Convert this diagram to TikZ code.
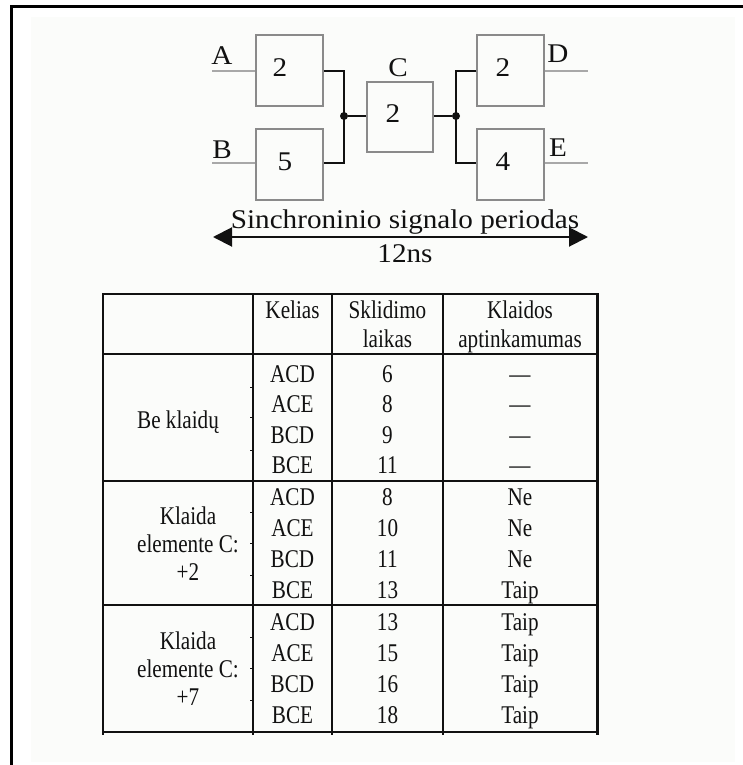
\documentclass[tikz,border=0pt]{standalone}
\usepackage{fontspec}
\setmainfont{Liberation Serif}
\newfontfamily\diafont{Liberation Serif}[FakeStretch=1.08]
\newfontfamily\tabfont{Liberation Serif}[FakeStretch=0.83]
\usetikzlibrary{arrows.meta}

\definecolor{ink}{HTML}{111111}
\definecolor{boxgray}{HTML}{8A8A8A}
\definecolor{leadgray}{HTML}{A8A8A8}
\definecolor{paper}{HTML}{FBFCFA}

\begin{document}
\begin{tikzpicture}[x=1pt,y=-1pt,
  blk/.style={draw=boxgray,line width=1.5pt,inner sep=0pt,
              minimum width=67pt,minimum height=71pt},
  lead/.style={draw=leadgray,line width=2pt},
  link/.style={draw=ink,line width=1.2pt},
  dot/.style={circle,fill=ink,inner sep=0pt,minimum size=8pt},
  lab/.style={font=\diafont\fontsize{27}{30}\selectfont,text=ink,inner sep=0pt,anchor=base},
  cell/.style={font=\tabfont\fontsize{25.5}{28}\selectfont,text=ink,inner sep=0pt,anchor=base},
  rule/.style={draw=ink,line width=1.5pt},
  frame/.style={draw=black,line width=3pt},
  span/.style={draw=ink,line width=2pt,>={Triangle[length=19pt,width=19pt]},<->}]

\useasboundingbox (0,0) rectangle (743,765);
\fill[paper] (31,17) rectangle (735,762);
\draw[frame] (11,765) -- (11,7) -- (743,7);

% ---------- circuit ----------
\node[blk] (bA) at (289.5,70.5) {};
\node[blk] (bB) at (289.5,164.5) {};
\node[blk,minimum width=66pt,minimum height=70pt] (bC) at (400,117) {};
\node[blk] (bD) at (510.5,70.5) {};
\node[blk] (bE) at (510.5,164.5) {};

\node[lab] (nA) at (280,77) {2};
\node[lab] (nB) at (285,170) {5};
\node[lab] (nC) at (393,123) {2};
\node[lab] (nD) at (503,77) {2};
\node[lab] (nE) at (503,170) {4};

\node[lab] (lA) at (222,65) {A};
\node[lab] (lB) at (222,158) {B};
\node[lab] (lC) at (398,77) {C};
\node[lab] (lD) at (558,63) {D};
\node[lab] (lE) at (558,157) {E};

\coordinate (inA) at (212,71);
\coordinate (inB) at (212,163);
\coordinate (outD) at (588,71);
\coordinate (outE) at (588,163);
\node[dot] (j1) at (344,116) {};
\node[dot] (j2) at (456,116) {};

\draw[lead] (inA) -- (inA -| bA.west);
\draw[lead] (inB) -- (inB -| bB.west);
\draw[lead] (outD -| bD.east) -- (outD);
\draw[lead] (outE -| bE.east) -- (outE);

\draw[link] (inA -| bA.east) -- (inA -| j1) -- (inB -| j1) -- (inB -| bB.east);
\draw[link] (j1) -- (j1 -| bC.west);
\draw[link] (j2 -| bC.east) -- (j2);
\draw[link] (outD -| bD.west) -- (outD -| j2) -- (outE -| j2) -- (outE -| bE.west);

% ---------- clock period ----------
\coordinate (arL) at (213,237);
\coordinate (arR) at (588,237);
\draw[span] (arL) -- (arR);
\node[lab] (per) at (405,228) {Sinchroninio signalo periodas};
\node[lab] (ns) at (405,262) {12ns};

% ---------- table ----------
\foreach \yy in {294,354,481,605,732}
  \draw[rule] (102,\yy) -- (598,\yy);
\foreach \xx in {103,253,332,443}
  \draw[rule] (\xx,294) -- (\xx,735);
\draw[rule,line width=3pt] (597,293) -- (597,735);
\foreach \yy in {387,417,450,512,543,575,637,668,700}
  \draw[ink,line width=1pt] (250,\yy) -- (253,\yy);

\node[cell] (h1) at (292.5,318) {Kelias};
\node[cell] (h2) at (387.5,318) {Sklidimo};
\node[cell] (h3) at (387.5,347) {laikas};
\node[cell] (h4) at (520,318) {Klaidos};
\node[cell] (h5) at (520,347) {aptinkamumas};

\node[cell] (g1) at (178,428) {Be klaidų};
\node[cell] (g2a) at (188,524) {Klaida};
\node[cell] (g2b) at (188,552) {elemente C:};
\node[cell] (g2c) at (188,580) {+2};
\node[cell] (g3a) at (188,649) {Klaida};
\node[cell] (g3b) at (188,677) {elemente C:};
\node[cell] (g3c) at (188,705) {+7};

\foreach \pth/\ptime/\dt/\yy [count=\i] in {
    ACD/6/—/382, ACE/8/—/412, BCD/9/—/443, BCE/11/—/473,
    ACD/8/Ne/505, ACE/10/Ne/536, BCD/11/Ne/567, BCE/13/Taip/598,
    ACD/13/Taip/630, ACE/15/Taip/661, BCD/16/Taip/692, BCE/18/Taip/723}{
  \node[cell] (pth\i) at (292.5,\yy) {\pth};
  \node[cell] (tim\i) at (387.5,\yy) {\ptime};
  \node[cell] (det\i) at (520,\yy) {\dt};
}
\end{tikzpicture}
\end{document}
